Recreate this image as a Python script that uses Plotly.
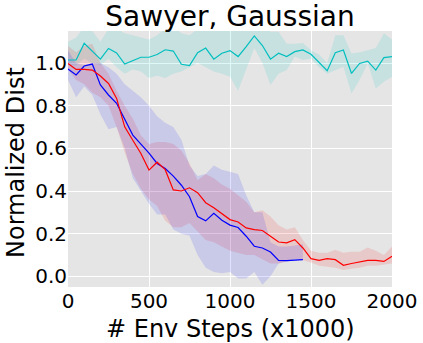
import plotly.graph_objects as go

steps = [i * 50 for i in range(41)]

cyan_mean = [1.014, 1.014, 1.092, 1.055, 1.018, 1.068, 1.047, 0.995, 1.01, 1.027, 1.027, 1.04, 1.062, 1.056, 0.994, 0.988, 1.048, 1.07, 1.018, 1.046, 1.058, 1.03, 1.077, 1.127, 1.082, 1.018, 1.046, 1.03, 1.053, 1.061, 1.041, 1.003, 0.964, 1.048, 1.061, 0.951, 0.998, 1.009, 0.967, 1.025, 1.03]
cyan_upper = [1.10, 1.12, 1.17, 1.15, 1.10, 1.16, 1.16, 1.14, 1.13, 1.12, 1.11, 1.13, 1.16, 1.17, 1.14, 1.13, 1.16, 1.17, 1.16, 1.17, 1.18, 1.18, 1.18, 1.2, 1.18, 1.147, 1.147, 1.09, 1.09, 1.094, 1.06, 1.04, 1.0, 1.13, 1.13, 1.045, 1.05, 1.06, 1.07, 1.14, 1.11]
cyan_lower = [0.99, 0.99, 1.02, 1.0, 0.99, 1.02, 0.98, 0.95, 0.97, 0.96, 0.93, 0.94, 0.93, 0.95, 0.96, 0.98, 1.0, 0.98, 0.96, 0.95, 0.935, 0.87, 0.97, 1.07, 1.0, 0.897, 0.95, 0.967, 1.03, 1.014, 1.02, 0.98, 0.95, 0.967, 0.983, 0.857, 0.92, 0.998, 0.881, 0.912, 0.935]

red_mean = [0.998, 0.97, 0.97, 0.967, 0.939, 0.904, 0.834, 0.701, 0.638, 0.576, 0.498, 0.535, 0.50, 0.405, 0.40, 0.415, 0.392, 0.345, 0.321, 0.295, 0.266, 0.255, 0.227, 0.219, 0.215, 0.188, 0.161, 0.157, 0.172, 0.133, 0.083, 0.075, 0.083, 0.078, 0.052, 0.06, 0.066, 0.075, 0.075, 0.07, 0.094]
red_upper = [1.08, 1.05, 1.08, 1.09, 1.0, 0.95, 0.87, 0.80, 0.74, 0.66, 0.62, 0.63, 0.63, 0.62, 0.59, 0.53, 0.45, 0.48, 0.46, 0.43, 0.41, 0.38, 0.35, 0.30, 0.31, 0.28, 0.24, 0.22, 0.23, 0.17, 0.12, 0.11, 0.11, 0.125, 0.11, 0.115, 0.115, 0.135, 0.12, 0.10, 0.14]
red_lower = [0.97, 0.92, 0.90, 0.86, 0.84, 0.80, 0.70, 0.58, 0.48, 0.41, 0.36, 0.33, 0.26, 0.23, 0.23, 0.25, 0.21, 0.17, 0.16, 0.14, 0.12, 0.11, 0.10, 0.10, 0.08, 0.06, 0.06, 0.07, 0.08, 0.075, 0.065, 0.05, 0.045, 0.04, 0.03, 0.035, 0.04, 0.05, 0.05, 0.055, 0.06]

blue_steps = [i * 50 for i in range(30)]
blue_mean = [0.972, 0.944, 0.986, 0.995, 0.897, 0.85, 0.811, 0.74, 0.662, 0.62, 0.578, 0.529, 0.505, 0.47, 0.427, 0.373, 0.28, 0.26, 0.295, 0.263, 0.24, 0.229, 0.188, 0.141, 0.133, 0.114, 0.075, 0.074, 0.075, 0.078]
blue_upper = [1.06, 1.0, 0.99, 1.0, 1.0, 0.98, 0.95, 0.9, 0.87, 0.84, 0.80, 0.75, 0.72, 0.70, 0.64, 0.52, 0.47, 0.48, 0.52, 0.50, 0.49, 0.48, 0.38, 0.30, 0.30, 0.16, 0.14, 0.14, 0.145, 0.15]
blue_lower = [0.92, 0.84, 0.89, 0.85, 0.76, 0.69, 0.70, 0.60, 0.46, 0.40, 0.34, 0.29, 0.29, 0.22, 0.20, 0.19, 0.10, 0.04, 0.02, 0.015, 0.02, -0.01, -0.01, 0.02, -0.04, 0.0, 0.06, 0.07, 0.075, 0.08]

x_ticks = [0, 500, 1000, 1500, 2000]
y_ticks = [0.0, 0.2, 0.4, 0.6, 0.8, 1.0]

fig = go.Figure()

def band(x, lo, hi, color):
    fig.add_trace(go.Scatter(x=list(x) + list(x)[::-1], y=list(hi) + list(lo)[::-1],
                             fill="toself", fillcolor=color, line=dict(width=0),
                             mode="lines", hoverinfo="skip", showlegend=False))

band(steps, cyan_lower, cyan_upper, "rgba(0,191,191,0.13)")
band(steps, red_lower, red_upper, "rgba(255,0,0,0.12)")
band(blue_steps, blue_lower, blue_upper, "rgba(0,0,255,0.12)")

fig.add_trace(go.Scatter(x=steps, y=cyan_mean, mode="lines", line=dict(color="#00bfbf", width=1.2), showlegend=False))
fig.add_trace(go.Scatter(x=blue_steps, y=blue_mean, mode="lines", line=dict(color="#0000ff", width=1.2), showlegend=False))
fig.add_trace(go.Scatter(x=steps, y=red_mean, mode="lines", line=dict(color="#ff0000", width=1.2), showlegend=False))

font = "DejaVu Sans"
fig.update_layout(
    width=423, height=343,
    margin=dict(l=68, r=31, t=31, b=56),
    paper_bgcolor="white", plot_bgcolor="#e5e5e5",
    title=dict(text="Sawyer, Gaussian", font=dict(family=font, size=28, color="black"),
               x=230 / 423, xanchor="center", y=1 - 16 / 343, yanchor="middle"),
    font=dict(family=font, color="black"),
    showlegend=False,
    annotations=[
        dict(text="# Env Steps (x1000)", xref="paper", yref="paper", x=0.5, y=(287 - 329) / 256,
             xanchor="center", yanchor="middle", showarrow=False, font=dict(family=font, size=24, color="black")),
        dict(text="Normalized Dist", xref="paper", yref="paper", x=(16 - 68) / 324, y=(287 - 163) / 256,
             xanchor="center", yanchor="middle", textangle=-90, showarrow=False,
             font=dict(family=font, size=24, color="black")),
    ],
)
fig.update_xaxes(range=[0, 2000], tickvals=x_ticks, ticktext=[str(v) for v in x_ticks],
                 tickfont=dict(size=20, color="black"), showgrid=True, gridcolor="white", gridwidth=1,
                 zeroline=False, ticks="", automargin=False)
fig.update_yaxes(range=[-0.05, 1.15], tickvals=y_ticks, ticktext=[f"{v:.1f}" for v in y_ticks],
                 tickfont=dict(size=20, color="black"), showgrid=True, gridcolor="white", gridwidth=1,
                 zeroline=False, ticks="", automargin=False)

fig.write_html("out.html")
